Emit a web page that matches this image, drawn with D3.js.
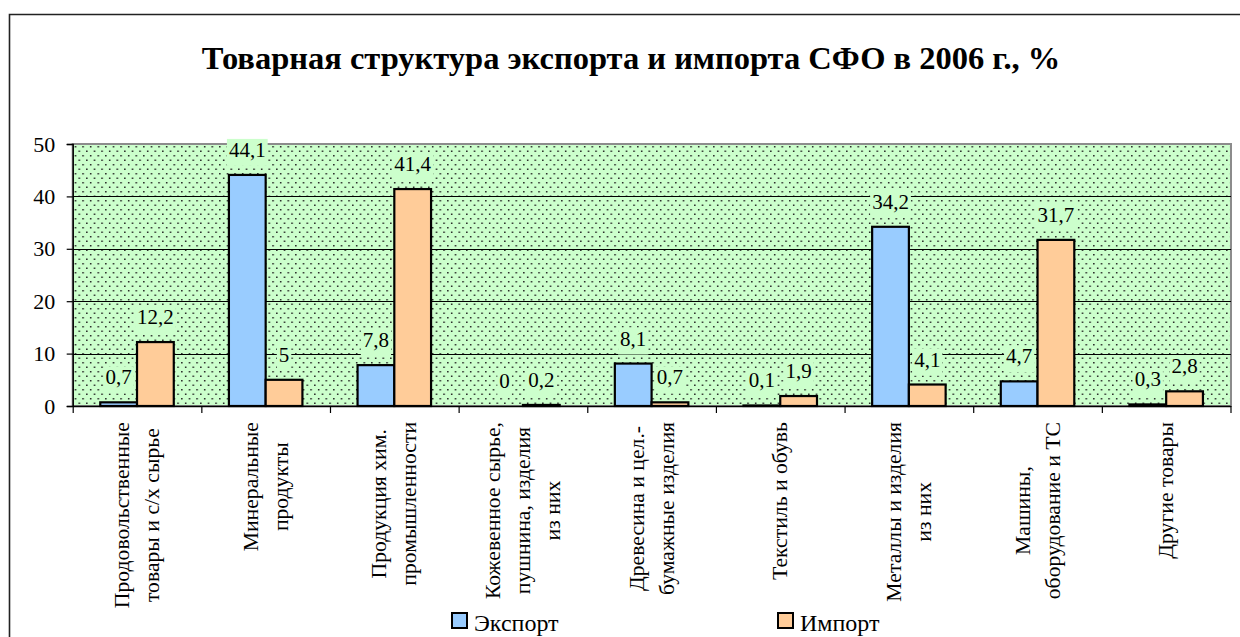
<!DOCTYPE html>
<html>
<head>
<meta charset="utf-8">
<script src="https://cdn.jsdelivr.net/npm/d3@7"></script>
</head>
<body style="margin:0">
<div id="chart"></div>
<script>
var svgWidth = 1240;
var svgHeight = 637;
var serif = "Liberation Serif";

var categories = [
  ["Продовольственные", "товары и с/х сырье"],
  ["Минеральные", "продукты"],
  ["Продукция хим.", "промышленности"],
  ["Кожевенное сырье,", "пушнина, изделия", "из них"],
  ["Древесина и цел.-", "бумажные изделия"],
  ["Текстиль и обувь"],
  ["Металлы и  изделия", "из них"],
  ["Машины,", "оборудование и ТС"],
  ["Другие товары"]
];
var exportValues = [0.7, 44.1, 7.8, 0, 8.1, 0.1, 34.2, 4.7, 0.3];
var importValues = [12.2, 5, 41.4, 0.2, 0.7, 1.9, 4.1, 31.7, 2.8];
var seriesNames = ["Экспорт", "Импорт"];
var yTicks = [0, 10, 20, 30, 40, 50];

var colors = { "Экспорт": "#99ccff", "Импорт": "#ffcc99" };

var plot = { left: 72.7, right: 1231, top: 144, bottom: 406 };

var svg = d3.select("#chart")
  .append("svg")
  .attr("width", svgWidth)
  .attr("height", svgHeight)
  .attr("font-family", serif);

// dotted fill like the office pattern
var defs = svg.append("defs");
var pat = defs.append("pattern")
  .attr("id", "dots")
  .attr("patternUnits", "userSpaceOnUse")
  .attr("x", plot.left + 2)
  .attr("y", plot.top + 2)
  .attr("width", 7.6)
  .attr("height", 9);
pat.append("rect").attr("width", 7.6).attr("height", 9).attr("fill", "#ccffcc");
pat.append("rect").attr("x", 0).attr("y", 0).attr("width", 1.5).attr("height", 1.5).attr("fill", "#222");
pat.append("rect").attr("x", 3.8).attr("y", 4.5).attr("width", 1.5).attr("height", 1.5).attr("fill", "#222");

// outer frame
svg.append("path")
  .attr("d", `M9.5,${svgHeight + 5} V14.5 H${svgWidth + 5}`)
  .attr("fill", "none")
  .attr("stroke", "#222")
  .attr("stroke-width", 1.6);

// title
svg.append("text")
  .attr("x", 631)
  .attr("y", 69)
  .attr("text-anchor", "middle")
  .attr("font-family", serif)
  .attr("font-size", 32.5)
  .attr("font-weight", "bold")
  .text("Товарная структура экспорта и импорта СФО в 2006 г., %");

var x = d3.scaleBand()
  .domain(d3.range(categories.length))
  .range([plot.left, plot.right - 0.5])
  .padding(0);

var xInner = d3.scaleBand()
  .domain(seriesNames)
  .range([0, x.bandwidth()])
  .paddingInner(0)
  .paddingOuter(0.75);

var y = d3.scaleLinear()
  .domain([0, 50])
  .range([plot.bottom, plot.top]);

// plot area
svg.append("rect")
  .attr("x", plot.left)
  .attr("y", plot.top)
  .attr("width", plot.right - plot.left)
  .attr("height", plot.bottom - plot.top)
  .attr("fill", "url(#dots)")
  .attr("stroke", "#8c8c8c")
  .attr("stroke-width", 2);

// gridlines
svg.append("g")
  .selectAll("line")
  .data(yTicks.filter(function(t) { return t > 0 && t < 50; }))
  .enter()
  .append("line")
  .attr("x1", plot.left)
  .attr("x2", plot.right)
  .attr("y1", function(d) { return Math.round(y(d)) + 0.5; })
  .attr("y2", function(d) { return Math.round(y(d)) + 0.5; })
  .attr("stroke", "#000")
  .attr("stroke-width", 1);

// bars
var rows = categories.map(function(c, i) {
  return { i: i, values: [exportValues[i], importValues[i]] };
});

var groups = svg.append("g")
  .selectAll("g")
  .data(rows)
  .enter()
  .append("g")
  .attr("transform", function(d) { return `translate(${x(d.i)},0)`; });

groups.selectAll("rect")
  .data(function(d) { return d.values.map(function(v, k) { return { name: seriesNames[k], value: v }; }); })
  .enter()
  .append("rect")
  .attr("x", function(d) { return xInner(d.name); })
  .attr("y", function(d) { return y(d.value); })
  .attr("width", xInner.bandwidth())
  .attr("height", function(d) { return y(0) - y(d.value); })
  .attr("fill", function(d) { return colors[d.name]; })
  .attr("stroke", "#000")
  .attr("stroke-width", 2.2);

// data labels with plain background
var labels = groups.selectAll("g.lbl")
  .data(function(d) { return d.values.map(function(v, k) { return { name: seriesNames[k], value: v }; }); })
  .enter()
  .append("g")
  .attr("class", "lbl")
  .attr("transform", function(d) {
    return `translate(${xInner(d.name) + xInner.bandwidth() / 2},${y(d.value) - 18})`;
  });

labels.append("text")
  .attr("text-anchor", "middle")
  .attr("font-family", serif)
  .attr("font-size", 21)
  .text(function(d) { return String(d.value).replace(".", ","); });

labels.each(function() {
  var g = d3.select(this);
  var bb = g.select("text").node().getBBox();
  g.insert("rect", "text")
    .attr("x", bb.x - 2)
    .attr("y", bb.y + 1)
    .attr("width", bb.width + 4)
    .attr("height", bb.height + 3)
    .attr("fill", "#ccffcc");
});

// y axis
var leftAxis = d3.axisLeft(y).tickValues(yTicks).tickSize(6).tickPadding(11.5);
var yAxis = svg.append("g")
  .attr("transform", `translate(${plot.left},0)`)
  .call(leftAxis)
  .attr("font-family", serif)
  .attr("font-size", 22);
yAxis.select(".domain").attr("stroke", "#000").attr("stroke-width", 1.5);
yAxis.selectAll("line").attr("stroke", "#000").attr("stroke-width", 1.2);
yAxis.selectAll("text").attr("fill", "#000");

// x axis: ticks between categories
var xEdges = d3.scaleLinear().domain([0, categories.length]).range(x.range());
var bottomAxis = d3.axisBottom(xEdges).ticks(categories.length).tickSize(7).tickFormat("").tickSizeOuter(0);
var xAxis = svg.append("g")
  .attr("transform", `translate(0,${plot.bottom})`)
  .call(bottomAxis);
xAxis.select(".domain").attr("stroke", "#000").attr("stroke-width", 1.5);
xAxis.selectAll("line").attr("stroke", "#000").attr("stroke-width", 1.2);

// category labels, rotated
var catFont = 21.7;
var lineGap = 30;
var catTop = 422;
categories.forEach(function(lines, i) {
  var cx = x(i) + x.bandwidth() / 2;
  var g = svg.append("g");
  var texts = lines.map(function(line, k) {
    return g.append("text")
      .attr("text-anchor", "middle")
      .attr("dominant-baseline", "central")
      .attr("font-family", serif)
      .attr("font-size", catFont)
      .text(line);
  });
  var maxLen = d3.max(texts, function(t) { return t.node().getComputedTextLength(); });
  g.attr("transform", `translate(${cx},${catTop + maxLen / 2}) rotate(-90)`);
  texts.forEach(function(t, k) {
    t.attr("x", 0).attr("y", (k - (lines.length - 1) / 2) * lineGap);
  });
});

// legend
var legendX = [452, 778];
var legend = svg.append("g")
  .selectAll("g")
  .data(seriesNames)
  .enter()
  .append("g")
  .attr("transform", function(d, i) { return `translate(${legendX[i]},613)`; });

legend.append("rect")
  .attr("width", 15)
  .attr("height", 15)
  .attr("fill", function(d) { return colors[d]; })
  .attr("stroke", "#000")
  .attr("stroke-width", 2);

legend.append("text")
  .attr("x", 22)
  .attr("y", 18)
  .attr("font-family", serif)
  .attr("font-size", 24)
  .text(function(d) { return d; });
</script>
</body>
</html>
